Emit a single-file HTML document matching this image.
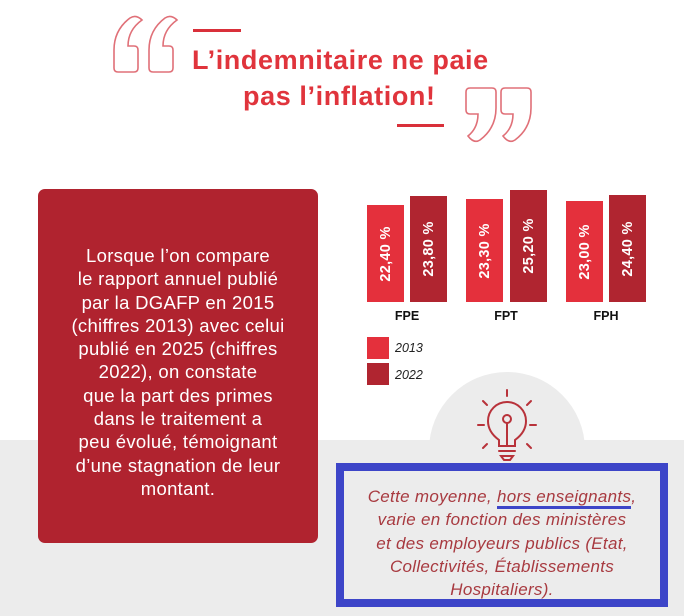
<!DOCTYPE html>
<html><head><meta charset="utf-8"><style>
*{margin:0;padding:0;box-sizing:border-box}
body{width:684px;height:616px;position:relative;background:#fff;font-family:"Liberation Sans",sans-serif;overflow:hidden}
.abs{position:absolute}
.title{color:#e0343c;font-weight:bold;font-size:27px;letter-spacing:0.6px;white-space:nowrap}
.bar{position:absolute;width:37px}
.l{background:#e4303c}.d{background:#b02530}
.bar span{position:absolute;left:50%;top:50%;transform:translate(-50%,-50%) rotate(-90deg);color:#fff;font-weight:bold;font-size:14.5px;letter-spacing:0.3px;white-space:nowrap}
.cat{position:absolute;top:309px;font-weight:bold;font-size:12.5px;color:#111;width:60px;text-align:center}
</style></head><body>
<div class="abs" style="left:0;top:440px;width:684px;height:176px;background:#ececec"></div>
<div class="abs" style="left:429px;top:372px;width:156px;height:156px;border-radius:50%;background:#ececec"></div>

<svg class="abs" style="left:0;top:0" width="684" height="160">
<g fill="none" stroke="#e07078" stroke-width="1.6">
<path d="M130 18 Q114 30 114 50 L114 68 Q114 72 118 72 L134 72 Q138 72 138 68 L138 50 Q138 46 134 46 L128 46 Q128 30 142 20 Q136 14 130 18Z"/>
<path d="M165 18 Q149 30 149 50 L149 68 Q149 72 153 72 L169 72 Q173 72 173 68 L173 50 Q173 46 169 46 L163 46 Q163 30 177 20 Q171 14 165 18Z"/>
<path d="M480 140 Q496 128 496 108 L496 92 Q496 88 492 88 L470 88 Q466 88 466 92 L466 110 Q466 114 470 114 L478 114 Q478 128 468 136 Q474 144 480 140Z"/>
<path d="M515 140 Q531 128 531 108 L531 92 Q531 88 527 88 L505 88 Q501 88 501 92 L501 110 Q501 114 505 114 L513 114 Q513 128 503 136 Q509 144 515 140Z"/>
</g>
<rect x="193" y="29" width="48" height="3" fill="#d9303a"/>
<rect x="397" y="124" width="47" height="3" fill="#d9303a"/>
</svg>
<div class="abs title" style="left:192px;top:45px">L’indemnitaire ne paie</div>
<div class="abs title" style="left:243px;top:81px">pas l’inflation!</div>

<div class="abs" style="left:38px;top:189px;width:280px;height:354px;background:#b0232f;border-radius:7px"></div>
<div class="abs" style="left:38px;top:244px;width:280px;text-align:center;color:#fff;font-size:18.5px;letter-spacing:0.3px;line-height:23.3px">Lorsque l’on compare<br>le rapport annuel publié<br>par la DGAFP en 2015<br>(chiffres 2013) avec celui<br>publié en 2025 (chiffres<br>2022), on constate<br>que la part des primes<br>dans le traitement a<br>peu évolué, témoignant<br>d’une stagnation de leur<br>montant.</div>

<div class="bar l" style="left:367px;top:205px;height:97px"><span>22,40 %</span></div>
<div class="bar d" style="left:410px;top:196px;height:106px"><span>23,80 %</span></div>
<div class="bar l" style="left:466px;top:199px;height:103px"><span>23,30 %</span></div>
<div class="bar d" style="left:510px;top:190px;height:112px"><span>25,20 %</span></div>
<div class="bar l" style="left:566px;top:201px;height:101px"><span>23,00 %</span></div>
<div class="bar d" style="left:609px;top:195px;height:107px"><span>24,40 %</span></div>
<div class="cat" style="left:377px">FPE</div>
<div class="cat" style="left:476px">FPT</div>
<div class="cat" style="left:576px">FPH</div>
<div class="abs l" style="left:367px;top:337px;width:22px;height:22px"></div>
<div class="abs d" style="left:367px;top:363px;width:22px;height:22px"></div>
<div class="abs" style="left:395px;top:341px;font-size:12.5px;font-style:italic;color:#222">2013</div>
<div class="abs" style="left:395px;top:368px;font-size:12.5px;font-style:italic;color:#222">2022</div>

<svg class="abs" style="left:470px;top:380px" width="80" height="85">
<g fill="none" stroke="#b8323a" stroke-width="2" stroke-linecap="round">
<line x1="37" y1="10" x2="37" y2="16"/>
<line x1="13" y1="21" x2="17" y2="25"/><line x1="61" y1="21" x2="57" y2="25"/>
<line x1="8" y1="45" x2="14" y2="45"/><line x1="60" y1="45" x2="66" y2="45"/>
<line x1="17" y1="64" x2="13" y2="68"/><line x1="57" y1="64" x2="61" y2="68"/>
<path d="M29 66 L29 60 Q18 52 18 41 A19 19 0 0 1 56 41 Q56 52 45 60 L45 66 Z"/>
<circle cx="37" cy="39" r="4"/><line x1="37" y1="43" x2="37" y2="66"/>
<line x1="29" y1="71" x2="45" y2="71"/><path d="M31 76 L43 76 L40 80 L34 80Z"/>
</g></svg>

<div class="abs" style="left:336px;top:463px;width:332px;height:144px;border:8px solid #3d45c8;background:#ececec"></div>
<div class="abs" style="left:340px;top:485px;width:324px;text-align:center;color:#a83a40;font-style:italic;font-size:17px;letter-spacing:0.3px;line-height:23.3px">Cette moyenne, <span style="border-bottom:3px solid #3d45c8">hors enseignants</span>,<br>varie en fonction des ministères<br>et des employeurs publics (Etat,<br>Collectivités, Établissements<br>Hospitaliers).</div>
</body></html>
